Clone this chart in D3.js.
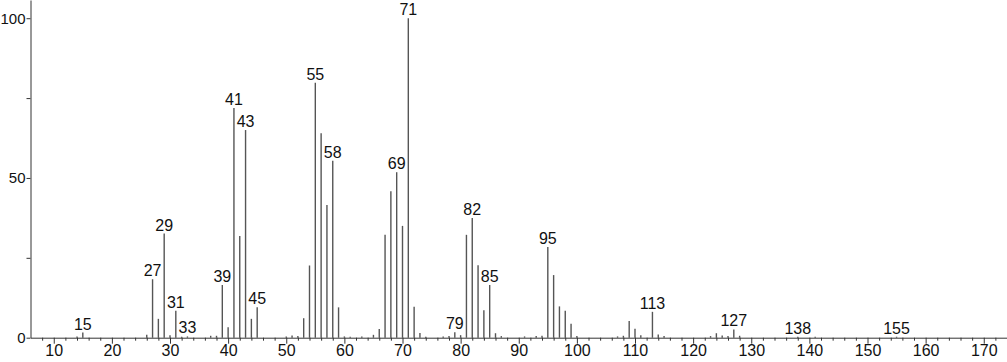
<!DOCTYPE html>
<html>
<head>
<meta charset="utf-8">
<script src="https://cdn.jsdelivr.net/npm/d3@7"></script>
<style>
  body { margin: 0; background: #fff; }
  svg { display: block; font-family: "Liberation Sans", Arial, sans-serif; }
</style>
</head>
<body>
<div id="chart"></div>
<script>
// m/z values and relative intensities
const mz = [14, 15, 26, 27, 28, 29, 30, 31, 32, 33, 37, 38, 39, 40, 41, 42, 43, 44, 45,
  50, 51, 52, 53, 54, 55, 56, 57, 58, 59, 60, 61, 63, 65, 66, 67, 68, 69, 70, 71, 72, 73, 74,
  77, 78, 79, 80, 81, 82, 83, 84, 85, 86, 87, 91, 93, 94, 95, 96, 97, 98, 99, 100,
  107, 108, 109, 110, 111, 113, 114, 115, 123, 124, 125, 126, 127, 128, 138, 141, 155];
const intensity = [0.4, 1.6, 0.9, 18.3, 5.9, 32.6, 0.8, 8.4, 0.3, 0.4, 0.6, 0.6, 16.5, 3.3, 71.9, 31.8, 65.0, 5.9, 9.5,
  0.4, 0.7, 0.5, 6.1, 22.6, 79.8, 64.0, 41.5, 55.4, 9.5, 0.4, 0.3, 0.4, 0.9, 2.7, 32.2, 45.8, 51.8, 35.0, 100, 9.7, 1.5, 0.3,
  0.4, 0.5, 1.7, 0.8, 32.2, 37.5, 22.7, 8.6, 16.5, 1.4, 0.5, 0.4, 0.5, 0.6, 28.4, 19.6, 9.8, 8.4, 4.4, 0.5,
  0.4, 0.6, 5.2, 2.8, 0.8, 8.1, 1.0, 0.5, 0.5, 1.4, 0.7, 0.5, 2.6, 0.6, 0.3, 0.3, 0.3];
const labelled = [15, 27, 29, 31, 33, 39, 41, 43, 45, 55, 58, 69, 71, 79, 82, 85, 95, 113, 127, 138, 155];
const xMajor = [10, 20, 30, 40, 50, 60, 70, 80, 90, 100, 110, 120, 130, 140, 150, 160, 170];
const yTicks = [0, 25, 50, 75, 100];
const yLabels = [0, 50, 100];

const W = 1007, H = 362;
const margin = {top: 0, right: 0, bottom: 24.3, left: 30.5};
const font = '"Liberation Sans", Arial, sans-serif';

const svg = d3.select('#chart').append('svg')
  .attr('width', W)
  .attr('height', H);

const x = d3.scaleLinear()
  .domain([6, 174])
  .range([margin.left, W - margin.right]);

const y = d3.scaleLinear()
  .domain([0, 105.7])
  .range([H - margin.bottom, margin.top]);

const peaks = mz.map((m, i) => ({mz: m, v: intensity[i]}));

// sticks
svg.append('g')
  .selectAll('line')
  .data(peaks)
  .enter().append('line')
  .attr('x1', d => x(d.mz))
  .attr('x2', d => x(d.mz))
  .attr('y1', y(0))
  .attr('y2', d => y(d.v))
  .attr('stroke', '#555')
  .attr('stroke-width', 1.4);

// minor x ticks every 2
const minor = d3.range(8, 174, 2).filter(v => v % 10 !== 0);
svg.append('g')
  .attr('transform', 'translate(0,' + y(0) + ')')
  .call(d3.axisBottom(x).tickValues(minor).tickSize(3).tickFormat(''))
  .call(g => g.select('.domain').remove())
  .call(g => g.selectAll('line').attr('stroke', '#333'));

// x axis
svg.append('g')
  .attr('transform', 'translate(0,' + y(0) + ')')
  .call(d3.axisBottom(x).tickValues(xMajor).tickSize(6).tickSizeOuter(0).tickPadding(1))
  .call(g => g.selectAll('text').attr('font-size', 16).attr('fill', '#111').attr('font-family', font))
  .call(g => g.selectAll('line, path').attr('stroke', '#333'));

// y axis
svg.append('g')
  .attr('transform', 'translate(' + margin.left + ',0)')
  .call(d3.axisLeft(y).tickValues(yTicks).tickSize(4).tickSizeOuter(0).tickPadding(1)
    .tickFormat(d => yLabels.includes(d) ? d : ''))
  .call(g => g.selectAll('text').attr('font-size', 15).attr('fill', '#111').attr('font-family', font))
  .call(g => g.selectAll('line, path').attr('stroke', '#333'));

// peak labels
svg.append('g')
  .selectAll('text')
  .data(peaks.filter(d => labelled.includes(d.mz)))
  .enter().append('text')
  .attr('x', d => x(d.mz))
  .attr('y', d => y(d.v) - 3)
  .attr('text-anchor', 'middle')
  .attr('font-size', 16)
  .attr('fill', '#111')
  .text(d => d.mz);
</script>
</body>
</html>
